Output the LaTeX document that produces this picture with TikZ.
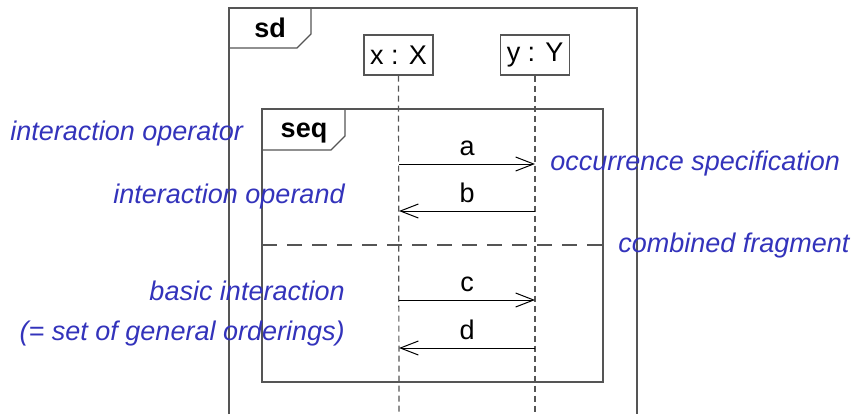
\documentclass[tikz,border=0pt]{standalone}
\usepackage{fontspec}
\setmainfont{Liberation Sans}
\usetikzlibrary{arrows.meta}
\definecolor{notecol}{RGB}{51,51,187}
\definecolor{linecol}{RGB}{85,85,85}

\begin{document}
\begin{tikzpicture}[x=0.5pt, y=-0.5pt, >={Straight Barb[length=9pt,width=7pt]},
  every node/.style={font=\fontsize{13.5}{16}\selectfont, inner sep=0pt},
  frame/.style={draw=linecol, line width=0.6pt},
  life/.style={draw=linecol, line width=0.6pt, dash pattern=on 3pt off 2pt},
  sep/.style={draw=linecol, line width=0.6pt, dash pattern=on 7.5pt off 5pt},
  head/.style={draw=linecol, line width=0.6pt, fill=white, minimum width=34.5pt, minimum height=20pt},
  msg/.style={->, line width=0.5pt},
  note/.style={font=\fontsize{13.5}{16}\selectfont\itshape, text=notecol}]
  \useasboundingbox (0,0) rectangle (855,414);

  % Khung sd
  \draw[frame] (229,414) -- (229,8) -- (637,8) -- (637,414);
  \draw[frame] (229,48) -- (297,48) -- (311,34) -- (311,8);
  \node[anchor=base, font=\fontsize{13.5}{16}\selectfont\bfseries] (sd) at (270,37) {sd};

  % Lifelines
  \node[head] (x) at (398.5,55) {x : X};
  \node[head] (y) at (535,55) {y : Y};
  \coordinate (xend) at (399,414);
  \coordinate (yend) at (535,414);
  \draw[life] (x.south) -- (xend);
  \draw[life] (y.south) -- (yend);

  % Khung seq
  \draw[frame] (262,109) rectangle (603,382);
  \draw[frame] (262,150) -- (331,150) -- (345,136) -- (345,109);
  \node[anchor=base, font=\fontsize{13.5}{16}\selectfont\bfseries] (seq) at (304,137) {seq};
  \draw[sep] (262,245) -- (603,245);

  % Messages
  \coordinate (xa) at (399,164); \coordinate (ya) at (535,164);
  \coordinate (xb) at (399,211); \coordinate (yb) at (535,211);
  \coordinate (xc) at (399,300); \coordinate (yc) at (535,300);
  \coordinate (xd) at (399,348); \coordinate (yd) at (535,348);
  \draw[msg] (xa) -- node[above=4pt] (la) {a} (ya);
  \draw[msg] (yb) -- node[above=4pt] (lb) {b} (xb);
  \draw[msg] (xc) -- node[above=4pt] (lc) {c} (yc);
  \draw[msg] (yd) -- node[above=4pt] (ld) {d} (xd);

  % Ghi chu
  \node[note, anchor=base west] (operator) at (10,140) {interaction operator};
  \node[note, anchor=base east] (operand) at (345,203) {interaction operand};
  \node[note, anchor=base west] (occurrence) at (550,170) {occurrence specification};
  \node[note, anchor=base west] (combined) at (618,252) {combined fragment};
  \node[note, anchor=base east] (basic) at (345,300) {basic interaction};
  \node[note, anchor=base east] (orderings) at (345,340) {(= set of general orderings)};
\end{tikzpicture}
\end{document}
